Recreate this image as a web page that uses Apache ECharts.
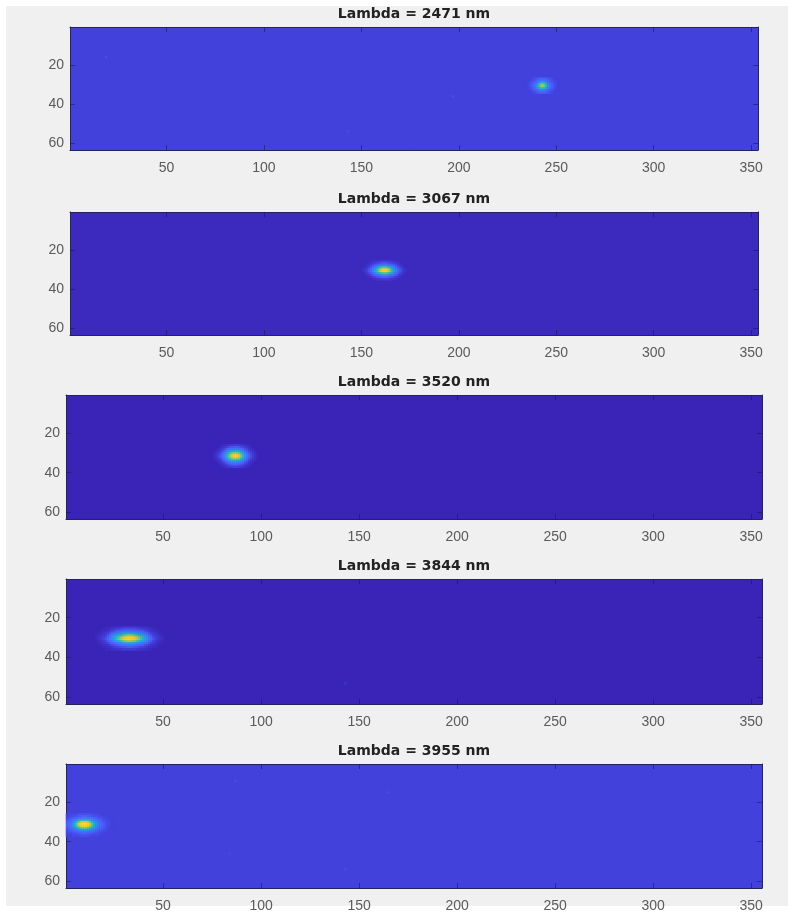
<!DOCTYPE html>
<html>
<head>
<meta charset="utf-8">
<style>html,body{margin:0;padding:0;background:#fff}#c{width:788px;height:915px}</style>
<script src="https://cdn.jsdelivr.net/npm/echarts@6/dist/echarts.min.js"></script>
</head>
<body>
<div id="c"></div>
<script>
// ---- data ----
const wavelengths = [2471, 3067, 3520, 3844, 3955];
const xTickLabels = ['50','100','150','200','250','300','350'];
const yTickLabels = ['20','40','60'];
const floors = [5, 1, 0, 0, 5];               // background level of each panel (percent of full scale)

const spot1Origin = [234, 27];
const spot1 = [
[5,5,5,5,6,7,8,9,10,11,10,9,8,7,6,5,5,5,5],
[5,5,5,6,7,8,10,13,16,18,16,13,10,8,7,6,5,5,5],
[5,5,6,7,8,10,14,22,32,38,32,22,14,10,8,7,6,5,5],
[5,5,6,8,10,14,22,38,56,66,56,38,22,14,10,8,6,5,5],
[5,5,6,8,11,16,26,44,62,72,62,44,26,16,11,8,6,5,5],
[5,5,6,7,9,12,18,30,42,48,42,30,18,12,9,7,6,5,5],
[5,5,5,6,7,9,12,16,20,22,20,16,12,9,7,6,5,5,5],
[5,5,5,5,6,7,8,10,11,12,11,10,8,7,6,5,5,5,5]
];
const spot2Origin = [150, 26];
const spot2 = [
[1,1,1,1,1,2,2,3,3,4,4,5,5,5,4,4,3,3,2,2,1,1,1,1,1],
[1,1,1,1,2,3,4,5,6,7,8,9,9,9,8,7,6,5,4,3,2,1,1,1,1],
[1,1,1,2,3,5,7,10,13,16,19,21,22,21,19,16,13,10,7,5,3,2,1,1,1],
[1,1,2,3,5,8,12,18,26,36,47,54,56,54,47,36,26,18,12,8,5,3,2,1,1],
[1,2,3,5,8,12,18,28,42,58,74,84,88,84,74,58,42,28,18,12,8,5,3,2,1],
[1,2,3,5,8,13,20,30,44,60,76,86,90,86,76,60,44,30,20,13,8,5,3,2,1],
[1,1,2,4,6,9,14,20,29,38,47,53,55,53,47,38,29,20,14,9,6,4,2,1,1],
[1,1,1,2,3,5,8,11,14,18,21,24,25,24,21,18,14,11,8,5,3,2,1,1,1],
[1,1,1,1,2,3,4,5,7,8,9,10,10,10,9,8,7,5,4,3,2,1,1,1,1],
[1,1,1,1,1,1,2,2,3,3,4,4,4,4,4,3,3,2,2,1,1,1,1,1,1]
];
const spot3Origin = [74, 26];
const spot3 = [
[0,0,0,0,0,0,1,1,2,2,3,4,4,4,4,4,3,2,2,1,1,0,0,0,0,0,0,0],
[0,0,0,0,0,1,2,3,4,5,7,8,9,9,9,8,7,5,4,3,2,1,0,0,0,0,0,0],
[0,0,0,0,1,2,3,5,7,10,13,16,17,18,17,16,13,10,7,5,3,2,1,0,0,0,0,0],
[0,0,0,1,2,3,5,8,12,18,25,30,33,34,33,30,25,18,12,8,5,3,2,1,0,0,0,0],
[0,0,1,2,3,5,8,13,21,31,43,53,60,62,60,53,43,31,21,13,8,5,3,2,1,0,0,0],
[0,0,1,2,4,6,10,17,28,42,58,74,86,90,86,74,58,42,28,17,10,6,4,2,1,0,0,0],
[0,0,1,2,4,7,11,18,29,44,60,76,88,92,88,76,60,44,29,18,11,7,4,2,1,0,0,0],
[0,0,1,2,3,5,8,14,22,33,46,57,64,66,64,57,46,33,22,14,8,5,3,2,1,0,0,0],
[0,0,0,1,2,3,5,9,13,20,27,32,35,36,35,32,27,20,13,9,5,3,2,1,0,0,0,0],
[0,0,0,0,1,2,3,5,8,11,15,18,19,20,19,18,15,11,8,5,3,2,1,0,0,0,0,0],
[0,0,0,0,0,1,2,3,4,6,8,9,10,10,10,9,8,6,4,3,2,1,0,0,0,0,0,0],
[0,0,0,0,0,0,1,1,2,3,4,4,5,5,5,4,4,3,2,1,1,0,0,0,0,0,0,0]
];
const spot4Origin = [16, 25];
const spot4 = [
[0,0,0,0,0,1,1,1,2,2,2,3,3,3,4,4,4,4,4,4,4,3,3,3,2,2,2,1,1,1,0,0,0,0,0],
[0,0,0,1,1,1,2,2,3,4,5,5,6,7,7,8,8,8,8,8,7,7,6,5,5,4,3,2,2,1,1,1,0,0,0],
[0,0,1,1,2,2,3,4,6,7,9,10,11,12,14,15,16,16,16,15,14,12,11,10,9,7,6,4,3,2,2,1,1,0,0],
[0,1,1,2,3,4,5,7,10,13,16,18,21,24,27,29,32,33,32,29,27,24,21,18,16,13,10,7,5,4,3,2,1,1,0],
[1,1,2,3,4,5,8,12,17,23,29,35,40,46,52,57,61,63,61,57,52,46,40,35,29,23,17,12,8,5,4,3,2,1,1],
[1,2,3,4,5,7,11,16,24,32,41,50,58,68,78,84,88,89,88,84,78,68,58,50,41,32,24,16,11,7,5,4,3,2,1],
[1,2,3,4,6,8,12,18,26,34,44,54,62,72,81,87,91,92,91,87,81,72,62,54,44,34,26,18,12,8,6,4,3,2,1],
[1,1,2,3,4,6,9,13,19,25,32,38,44,51,57,62,65,67,65,62,57,51,44,38,32,25,19,13,9,6,4,3,2,1,1],
[0,1,1,2,3,4,5,8,11,14,17,20,23,26,29,32,35,35,35,32,29,26,23,20,17,14,11,8,5,4,3,2,1,1,0],
[0,0,1,1,2,2,3,4,6,7,9,10,12,14,15,17,18,18,18,17,15,14,12,10,9,7,6,4,3,2,2,1,1,0,0],
[0,0,0,1,1,1,2,2,3,4,5,5,6,7,8,8,9,9,9,8,8,7,6,5,5,4,3,2,2,1,1,1,0,0,0],
[0,0,0,0,0,1,1,1,2,2,2,3,3,3,4,4,4,4,4,4,4,3,3,3,2,2,2,1,1,0,0,0,0,0,0]
];
const spot5Origin = [1, 26];
const spot5 = [
[5,5,6,6,6,6,7,7,7,7,7,7,7,6,6,6,6,5,5,5,5,5,5,5,5],
[5,6,6,7,7,8,9,9,10,10,10,9,9,8,8,7,7,6,6,5,5,5,5,5,5],
[6,7,8,9,10,12,14,16,17,18,17,16,15,13,11,10,8,7,7,6,6,5,5,5,5],
[8,9,11,13,16,21,27,32,35,36,35,32,27,22,18,15,12,10,8,7,6,6,5,5,5],
[9,12,15,19,27,40,54,68,76,78,76,68,54,40,29,21,16,12,10,8,7,6,6,5,5],
[10,13,17,24,37,55,74,88,94,96,94,88,74,55,38,26,19,14,11,9,7,6,6,5,5],
[10,13,16,23,35,52,70,84,90,92,90,84,70,52,36,25,18,14,11,9,7,6,6,5,5],
[9,11,14,18,25,36,47,57,63,65,63,57,47,36,27,20,15,12,10,8,7,6,5,5,5],
[7,9,10,13,16,20,25,29,32,33,32,29,25,20,17,14,11,9,8,7,6,6,5,5,5],
[6,7,8,9,10,12,14,15,17,17,17,15,14,12,11,9,8,7,6,6,6,5,5,5,5],
[6,6,6,7,7,8,9,9,10,10,10,9,9,8,7,7,6,6,6,5,5,5,5,5,5],
[5,5,5,6,6,6,6,7,7,7,7,7,6,6,6,6,6,5,5,5,5,5,5,5,5]
];
// faint specks: [x, y, percent]
const specks1 = [[19,16,7],[197,36,7],[143,54,7]];
const specks4 = [[143,53,3]];
const specks5 = [[87,9,7],[165,15,7],[143,54,7],[84,46,6]];

const spots = [spot1, spot2, spot3, spot4, spot5];
const origins = [spot1Origin, spot2Origin, spot3Origin, spot4Origin, spot5Origin];
const specks = [specks1, [], [], specks4, specks5];

// ---- layout and style ----
const boxes = [
  {l:70, r:758, t:27,  h:123, nx:353},
  {l:70, r:758, t:212, h:123, nx:353},
  {l:66, r:762, t:395, h:124, nx:355},
  {l:66, r:762, t:579, h:125, nx:355},
  {l:66, r:762, t:764, h:124, nx:355}
];
const NY = 63;
const ramp = ['#3a24b8','#4c5eff','#3a80f0','#2a9ce8','#18b4d0','#30c4a8','#70cc78','#b8c850','#ecc63c','#fbd02c','#fbe620'];
function shade(pct){
  const p = Math.min(9.999, pct/10), i = Math.floor(p), f = p - i;
  const a = parseInt(ramp[i].slice(1),16), b = parseInt(ramp[i+1].slice(1),16);
  const ch = s => Math.round(((a>>s)&255)*(1-f) + ((b>>s)&255)*f);
  return 'rgb('+ch(16)+','+ch(8)+','+ch(0)+')';
}
const lineCol = '#24245a', tickCol = 'rgba(20,20,90,0.55)', txtCol = '#5a5a5a';
const grid=[], xAxis=[], yAxis=[], series=[], title=[];
const range = n => Array.from({length:n},(_,i)=>String(i+1));

boxes.forEach((b,i)=>{
  grid.push({left:b.l, top:b.t, width:b.r-b.l, height:b.h, show:true, borderWidth:0,
             backgroundColor:shade(floors[i]), containLabel:false});
  title.push({text:'Lambda = '+wavelengths[i]+' nm', left:409, top:b.t-26, textAlign:'center',
    textStyle:{fontFamily:'DejaVu Sans', fontWeight:'bold', fontSize:14, color:'#222', lineHeight:16}});
  const xShow = (idx,v)=>xTickLabels.includes(v), yShow=(idx,v)=>yTickLabels.includes(v);
  ['bottom','top'].forEach(pos=>xAxis.push({type:'category', gridIndex:i, position:pos, data:range(b.nx),
    axisLine:{show:true,lineStyle:{color:lineCol,width:1}},
    axisTick:{show:true,inside:true,length:5,alignWithLabel:true,interval:xShow,lineStyle:{color:tickCol}},
    axisLabel:{show:pos==='bottom',interval:xShow,margin:11,fontSize:14,color:txtCol,fontFamily:'Liberation Sans',hideOverlap:false},
    splitLine:{show:false}}));
  ['left','right'].forEach(pos=>yAxis.push({type:'category', gridIndex:i, position:pos, inverse:true, data:range(NY),
    axisLine:{show:true,lineStyle:{color:lineCol,width:1}},
    axisTick:{show:true,inside:true,length:5,alignWithLabel:true,interval:yShow,lineStyle:{color:tickCol}},
    axisLabel:{show:pos==='left',interval:yShow,margin:6,fontSize:14,color:txtCol,fontFamily:'Liberation Sans',hideOverlap:false},
    splitLine:{show:false}}));
  const data=[];
  spots[i].forEach((row,ry)=>row.forEach((v,cx)=>{
    data.push([origins[i][0]+cx-1, origins[i][1]+ry-1, Math.max(v,floors[i])]);
  }));
  specks[i].forEach(s=>data.push([s[0]-1,s[1]-1,s[2]]));
  series.push({type:'heatmap', xAxisIndex:i*2, yAxisIndex:i*2, data, silent:true, progressive:0,
    emphasis:{disabled:true}, animation:false});
});

const chart = echarts.init(document.getElementById('c'), null, {renderer:'canvas'});
chart.setOption({
  animation:false,
  backgroundColor:'#ffffff',
  graphic:[{type:'rect', z:-10, silent:true, shape:{x:6,y:6,width:782,height:900}, style:{fill:'#f0f0f0'}}],
  title, grid, xAxis, yAxis, series,
  visualMap:{show:false, min:0, max:100, seriesIndex:[0,1,2,3,4], inRange:{color:ramp}}
});
</script>
</body>
</html>
